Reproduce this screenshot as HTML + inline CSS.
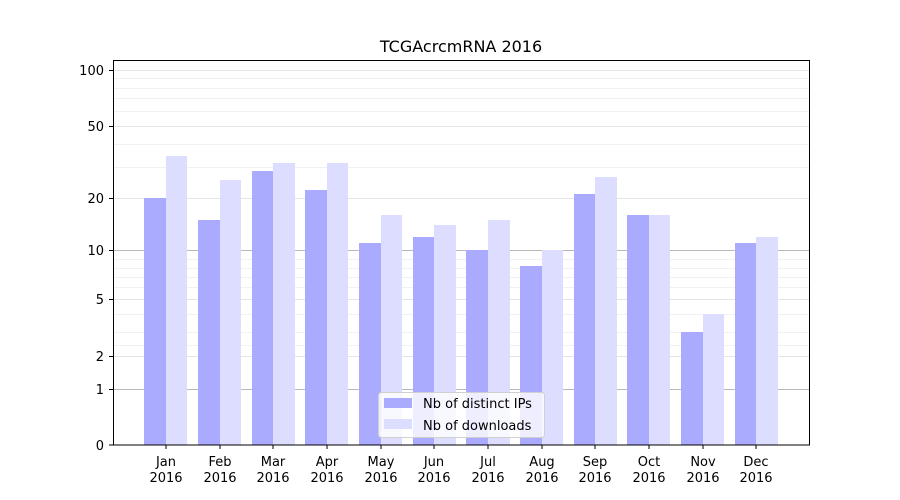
<!DOCTYPE html>
<html><head><meta charset="utf-8"><style>
body{margin:0;background:#fff}
svg{display:block;font-family:"DejaVu Sans","Liberation Sans",sans-serif}
</style></head><body>
<svg width="900" height="500" viewBox="0 0 900 500">
<rect width="900" height="500" fill="#fff"/>
<g stroke="#ececec" stroke-width="0.8">
<line x1="113" x2="810" y1="345.5" y2="345.5"/><line x1="113" x2="810" y1="332.5" y2="332.5"/>
<line x1="113" x2="810" y1="314.5" y2="314.5"/><line x1="113" x2="810" y1="287.5" y2="287.5"/>
<line x1="113" x2="810" y1="277.5" y2="277.5"/><line x1="113" x2="810" y1="268.5" y2="268.5"/>
<line x1="113" x2="810" y1="259.5" y2="259.5"/><line x1="113" x2="810" y1="167.5" y2="167.5"/>
<line x1="113" x2="810" y1="144.5" y2="144.5"/><line x1="113" x2="810" y1="111.5" y2="111.5"/>
<line x1="113" x2="810" y1="98.5" y2="98.5"/><line x1="113" x2="810" y1="88.5" y2="88.5"/>
<line x1="113" x2="810" y1="78.5" y2="78.5"/>
</g>
<g stroke="#dcdcdc" stroke-width="0.8">
<line x1="113" x2="810" y1="356.5" y2="356.5"/><line x1="113" x2="810" y1="299.5" y2="299.5"/>
<line x1="113" x2="810" y1="198.5" y2="198.5"/><line x1="113" x2="810" y1="126.5" y2="126.5"/>
<line x1="113" x2="810" y1="70.5" y2="70.5"/>
</g>
<g stroke="#b8b8b8" stroke-width="1">
<line x1="113" x2="810" y1="389.5" y2="389.5"/><line x1="113" x2="810" y1="250.5" y2="250.5"/>
</g>
<g fill="#aaaaff">
<rect x="144" y="198" width="22" height="247"/>
<rect x="198" y="220" width="22" height="225"/>
<rect x="252" y="171" width="21" height="274"/>
<rect x="305" y="190" width="22" height="255"/>
<rect x="359" y="243" width="22" height="202"/>
<rect x="413" y="237" width="21" height="208"/>
<rect x="466" y="250" width="22" height="195"/>
<rect x="520" y="266" width="22" height="179"/>
<rect x="574" y="194" width="21" height="251"/>
<rect x="627" y="215" width="22" height="230"/>
<rect x="681" y="332" width="22" height="113"/>
<rect x="735" y="243" width="21" height="202"/>
</g>
<g fill="#ddddff">
<rect x="166" y="156" width="21" height="289"/>
<rect x="220" y="180" width="21" height="265"/>
<rect x="273" y="163" width="22" height="282"/>
<rect x="327" y="163" width="21" height="282"/>
<rect x="381" y="215" width="21" height="230"/>
<rect x="434" y="225" width="22" height="220"/>
<rect x="488" y="220" width="22" height="225"/>
<rect x="542" y="250" width="21" height="195"/>
<rect x="595" y="177" width="22" height="268"/>
<rect x="649" y="215" width="21" height="230"/>
<rect x="703" y="314" width="21" height="131"/>
<rect x="756" y="237" width="22" height="208"/>
</g>
<rect x="113.5" y="60.5" width="696" height="384.5" fill="none" stroke="#000" stroke-width="1"/>
<g stroke="#000" stroke-width="1">
<line x1="109" x2="113" y1="445" y2="445"/><line x1="109" x2="113" y1="389.5" y2="389.5"/>
<line x1="109" x2="113" y1="356.5" y2="356.5"/><line x1="109" x2="113" y1="299.5" y2="299.5"/>
<line x1="109" x2="113" y1="250.5" y2="250.5"/><line x1="109" x2="113" y1="198.5" y2="198.5"/>
<line x1="109" x2="113" y1="126.5" y2="126.5"/><line x1="109" x2="113" y1="70.5" y2="70.5"/>
</g>
<g font-size="13" text-anchor="end" fill="#000">
<text x="104" y="450">0</text><text x="104" y="394">1</text><text x="104" y="361">2</text>
<text x="104" y="304">5</text><text x="104" y="255">10</text><text x="104" y="203">20</text>
<text x="104" y="131">50</text><text x="104" y="75">100</text>
</g>
<g stroke="#000"><line x1="166" x2="166" y1="445" y2="449"/><line x1="220" x2="220" y1="445" y2="449"/><line x1="273" x2="273" y1="445" y2="449"/><line x1="327" x2="327" y1="445" y2="449"/><line x1="381" x2="381" y1="445" y2="449"/><line x1="434" x2="434" y1="445" y2="449"/><line x1="488" x2="488" y1="445" y2="449"/><line x1="542" x2="542" y1="445" y2="449"/><line x1="595" x2="595" y1="445" y2="449"/><line x1="649" x2="649" y1="445" y2="449"/><line x1="703" x2="703" y1="445" y2="449"/><line x1="756" x2="756" y1="445" y2="449"/></g>
<g font-size="13" text-anchor="middle" fill="#000">
<text x="166" y="466">Jan</text><text x="166" y="482">2016</text>
<text x="220" y="466">Feb</text><text x="220" y="482">2016</text>
<text x="273" y="466">Mar</text><text x="273" y="482">2016</text>
<text x="327" y="466">Apr</text><text x="327" y="482">2016</text>
<text x="381" y="466">May</text><text x="381" y="482">2016</text>
<text x="434" y="466">Jun</text><text x="434" y="482">2016</text>
<text x="488" y="466">Jul</text><text x="488" y="482">2016</text>
<text x="542" y="466">Aug</text><text x="542" y="482">2016</text>
<text x="595" y="466">Sep</text><text x="595" y="482">2016</text>
<text x="649" y="466">Oct</text><text x="649" y="482">2016</text>
<text x="703" y="466">Nov</text><text x="703" y="482">2016</text>
<text x="756" y="466">Dec</text><text x="756" y="482">2016</text>
</g>
<text x="461" y="52" font-size="16" text-anchor="middle">TCGAcrcmRNA 2016</text>
<rect x="378.5" y="392.5" width="166" height="45" rx="3" fill="#fff" fill-opacity="0.8" stroke="#d0d0d0"/>
<rect x="384" y="398" width="28" height="10" fill="#aaaaff"/>
<rect x="384" y="419" width="28" height="10" fill="#ddddff"/>
<text x="423" y="408" font-size="13">Nb of distinct IPs</text>
<text x="423" y="430" font-size="13">Nb of downloads</text>
</svg>
</body></html>
